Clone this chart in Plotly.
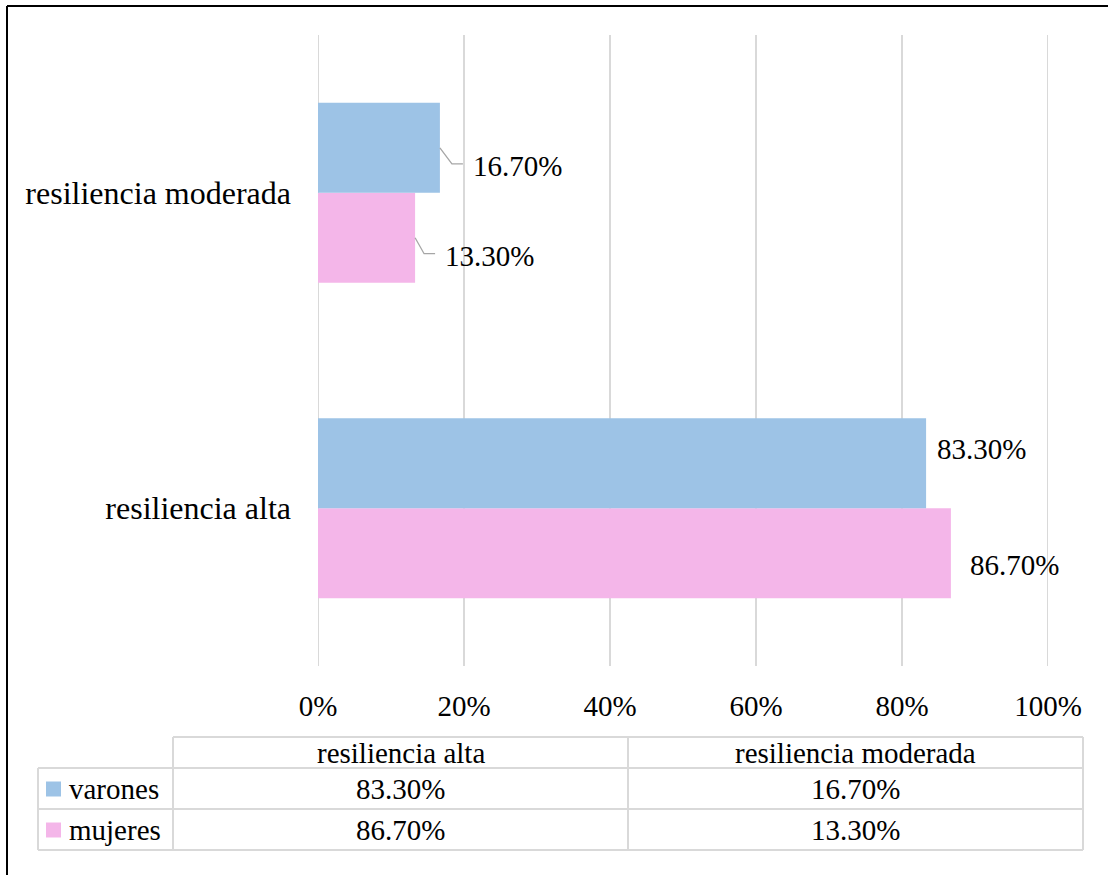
import plotly.graph_objects as go

# ---- data ----
categories = ["resiliencia alta", "resiliencia moderada"]
series_names = ["varones", "mujeres"]
varones = [83.3, 16.7]
mujeres = [86.7, 13.3]
value_labels_varones = ["83.30%", "16.70%"]
value_labels_mujeres = ["86.70%", "13.30%"]
tick_values = [0, 20, 40, 60, 80, 100]
tick_labels = ["0%", "20%", "40%", "60%", "80%", "100%"]

# ---- style ----
W, H = 1108, 875
PLOT_L, PLOT_R, PLOT_T, PLOT_B = 318, 1048, 35, 666
BLUE = "#9DC3E6"
PINK = "#F4B6E9"
GRID = "#D9D9D9"
FONT = "Liberation Serif, Times New Roman, serif"
FS = 29
BAR_GAP = 0.43
HALF = (1 - BAR_GAP) / 4  # centre offset of each bar inside a group


def px_x(p):
    return (p - PLOT_L) / (PLOT_R - PLOT_L)


def px_y(p):
    return (PLOT_B - p) / (PLOT_B - PLOT_T)


fig = go.Figure()
# mujeres first so it sits below varones within each group
fig.add_trace(go.Bar(y=categories, x=mujeres, orientation="h", name="mujeres",
                     marker=dict(color=PINK, line=dict(width=0))))
fig.add_trace(go.Bar(y=categories, x=varones, orientation="h", name="varones",
                     marker=dict(color=BLUE, line=dict(width=0))))

annotations = []
shapes = []

# gridlines at the range edges (plotly omits them)
for tv in (tick_values[0], tick_values[-1]):
    shapes.append(dict(type="line", xref="x", yref="paper", x0=tv, x1=tv, y0=0, y1=1,
                       line=dict(color=GRID, width=2), layer="below"))

# data labels (manually offset like the original)
label_offsets_v = [(9, 14), (31, -18)]   # (xshift, yshift) per category
label_offsets_m = [(17, -12), (28, -18)]
for i, cat in enumerate(categories):
    annotations.append(dict(x=varones[i], y=i + HALF, xref="x", yref="y",
                            text=value_labels_varones[i], showarrow=False,
                            xanchor="left", yanchor="middle",
                            xshift=label_offsets_v[i][0], yshift=label_offsets_v[i][1],
                            font=dict(family=FONT, size=FS, color="black")))
    annotations.append(dict(x=mujeres[i], y=i - HALF, xref="x", yref="y",
                            text=value_labels_mujeres[i], showarrow=False,
                            xanchor="left", yanchor="middle",
                            xshift=label_offsets_m[i][0], yshift=label_offsets_m[i][1],
                            font=dict(family=FONT, size=FS, color="black")))

# leader lines for the small moderada labels
idx = categories.index("resiliencia moderada")
shapes.append(dict(type="path", xref="x", yref="y", xsizemode="pixel", ysizemode="pixel",
                   xanchor=varones[idx], yanchor=idx + HALF,
                   path="M 0,0 L 12,-16 L 23,-16", line=dict(color="#A6A6A6", width=1.3)))
shapes.append(dict(type="path", xref="x", yref="y", xsizemode="pixel", ysizemode="pixel",
                   xanchor=mujeres[idx], yanchor=idx - HALF,
                   path="M 0,0 L 9,-16 L 20,-16", line=dict(color="#A6A6A6", width=1.3)))

# ---- data table below the axis ----
LINE = dict(color=GRID, width=2)
col_x = [38, 173, 628, 1083]
row_y = [737, 768, 809, 850]


def hline(x0, x1, y):
    shapes.append(dict(type="line", xref="paper", yref="paper",
                       x0=px_x(x0), x1=px_x(x1), y0=px_y(y), y1=px_y(y), line=LINE))


def vline(x, y0, y1):
    shapes.append(dict(type="line", xref="paper", yref="paper",
                       x0=px_x(x), x1=px_x(x), y0=px_y(y0), y1=px_y(y1), line=LINE))


hline(col_x[1], col_x[3], row_y[0])
for y in row_y[1:]:
    hline(col_x[0], col_x[3], y)
vline(col_x[0], row_y[1], row_y[3])
for x in col_x[1:]:
    vline(x, row_y[0], row_y[3])


def table_text(x, y, text, anchor="center"):
    annotations.append(dict(x=px_x(x), y=px_y(y), xref="paper", yref="paper",
                            text=text, showarrow=False, xanchor=anchor, yanchor="middle",
                            font=dict(family=FONT, size=FS, color="black")))


col_centres = [(col_x[1] + col_x[2]) / 2, (col_x[2] + col_x[3]) / 2]
row_centres = [(row_y[i] + row_y[i + 1]) / 2 for i in range(3)]
for j, cat in enumerate(categories):
    table_text(col_centres[j], row_centres[0], cat)
    table_text(col_centres[j], row_centres[1], value_labels_varones[j])
    table_text(col_centres[j], row_centres[2], value_labels_mujeres[j])

# legend keys inside the table
for r, (name, color) in enumerate(zip(series_names, [BLUE, PINK])):
    yc = row_centres[r + 1]
    shapes.append(dict(type="rect", xref="paper", yref="paper",
                       x0=px_x(46), x1=px_x(61), y0=px_y(yc + 8), y1=px_y(yc - 7),
                       fillcolor=color, line=dict(width=0)))
    table_text(67, yc, name, anchor="left")

# outer chart border (top and left edges visible)
shapes.append(dict(type="line", xref="paper", yref="paper",
                   x0=px_x(7), x1=px_x(W + 5), y0=px_y(6), y1=px_y(6),
                   line=dict(color="black", width=2)))
shapes.append(dict(type="line", xref="paper", yref="paper",
                   x0=px_x(7), x1=px_x(7), y0=px_y(6), y1=px_y(H + 5),
                   line=dict(color="black", width=2)))

fig.update_layout(
    width=W, height=H,
    margin=dict(l=PLOT_L, r=W - PLOT_R, t=PLOT_T, b=H - PLOT_B, pad=0),
    paper_bgcolor="white", plot_bgcolor="white",
    barmode="group", bargap=BAR_GAP, bargroupgap=0,
    showlegend=False,
    xaxis=dict(range=[0, 100], tickvals=tick_values, ticktext=tick_labels,
               showgrid=True, gridcolor=GRID, gridwidth=2, zeroline=False,
               showline=False, ticks="", ticklabelstandoff=20,
               tickfont=dict(family=FONT, size=FS, color="black")),
    yaxis=dict(categoryorder="array", categoryarray=categories,
               range=[-0.5, 1.5], showgrid=False, zeroline=False, showline=False,
               ticks="", ticklabelstandoff=26,
               tickfont=dict(family=FONT, size=32, color="black")),
    annotations=annotations,
    shapes=shapes,
)

fig.write_html("out.html")
